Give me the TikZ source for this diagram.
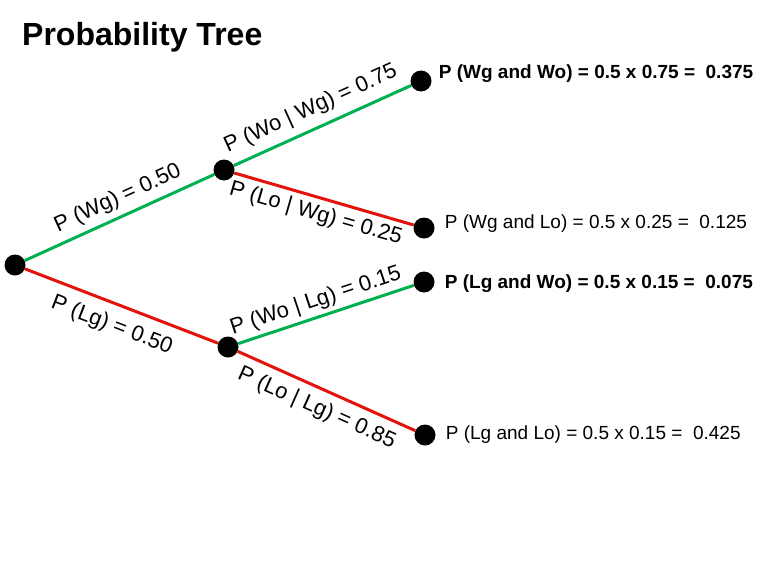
\documentclass[tikz,border=0pt]{standalone}
\usepackage{fontspec}
\setmainfont{Liberation Sans}
\usetikzlibrary{positioning}
\definecolor{wingreen}{HTML}{00B050}
\definecolor{lossred}{HTML}{E3120B}
\tikzset{
  dot/.style={circle,fill=black,inner sep=0pt,minimum size=21pt},
  win/.style={draw=wingreen,line width=3pt},
  loss/.style={draw=lossred,line width=3pt},
  prob/.style={sloped,font=\fontsize{22}{22}\selectfont,inner sep=2pt},
  outcome/.style={font=\fontsize{19}{19}\selectfont,inner sep=0pt}
}
\begin{document}
\begin{tikzpicture}[x=1pt,y=-1pt]
\useasboundingbox (0,0) rectangle (768,576);
\node[font=\fontsize{32}{32}\selectfont\bfseries,anchor=base west,inner sep=0pt] (title) at (22,45) {Probability Tree};
\node[dot] (root) at (15,265) {};
\node[dot] (wg) at (224,170) {};
\node[dot] (lg) at (228,347) {};
\node[dot] (wgwo) at (421,81) {};
\node[dot] (wglo) at (424,228) {};
\node[dot] (lgwo) at (424,282) {};
\node[dot] (lglo) at (425,435) {};
\draw[win] (root) -- node[prob,pos=0.53,above=4pt] {P (Wg) = 0.50} (wg);
\draw[loss] (root) -- node[prob,pos=0.49,below=8pt] {P (Lg) = 0.50} (lg);
\draw[win] (wg) -- node[prob,pos=0.48,above=6pt] {P (Wo | Wg) = 0.75} (wgwo);
\draw[loss] (wg) -- node[prob,pos=0.48,below=3pt] {P (Lo | Wg) = 0.25} (wglo);
\draw[win] (lg) -- node[prob,pos=0.47,above=2pt] {P (Wo | Lg) = 0.15} (lgwo);
\draw[loss] (lg) -- node[prob,pos=0.49,below=6pt] {P (Lo | Lg) = 0.85} (lglo);
\node[outcome,anchor=west,right=7pt of wgwo,yshift=7pt,font=\fontsize{19}{19}\selectfont\bfseries] (pwgwo) {P (Wg and Wo) = 0.5 x 0.75 =\ \ 0.375};
\node[outcome,anchor=west,right=10pt of wglo,yshift=4pt] (pwglo) {P (Wg and Lo) = 0.5 x 0.25 =\ \ 0.125};
\node[outcome,anchor=west,right=10pt of lgwo,yshift=-2pt,font=\fontsize{19}{19}\selectfont\bfseries] (plgwo) {P (Lg and Wo) = 0.5 x 0.15 =\ \ 0.075};
\node[outcome,anchor=west,right=10pt of lglo] (plglo) {P (Lg and Lo) = 0.5 x 0.15 =\ \ 0.425};
\end{tikzpicture}
\end{document}
